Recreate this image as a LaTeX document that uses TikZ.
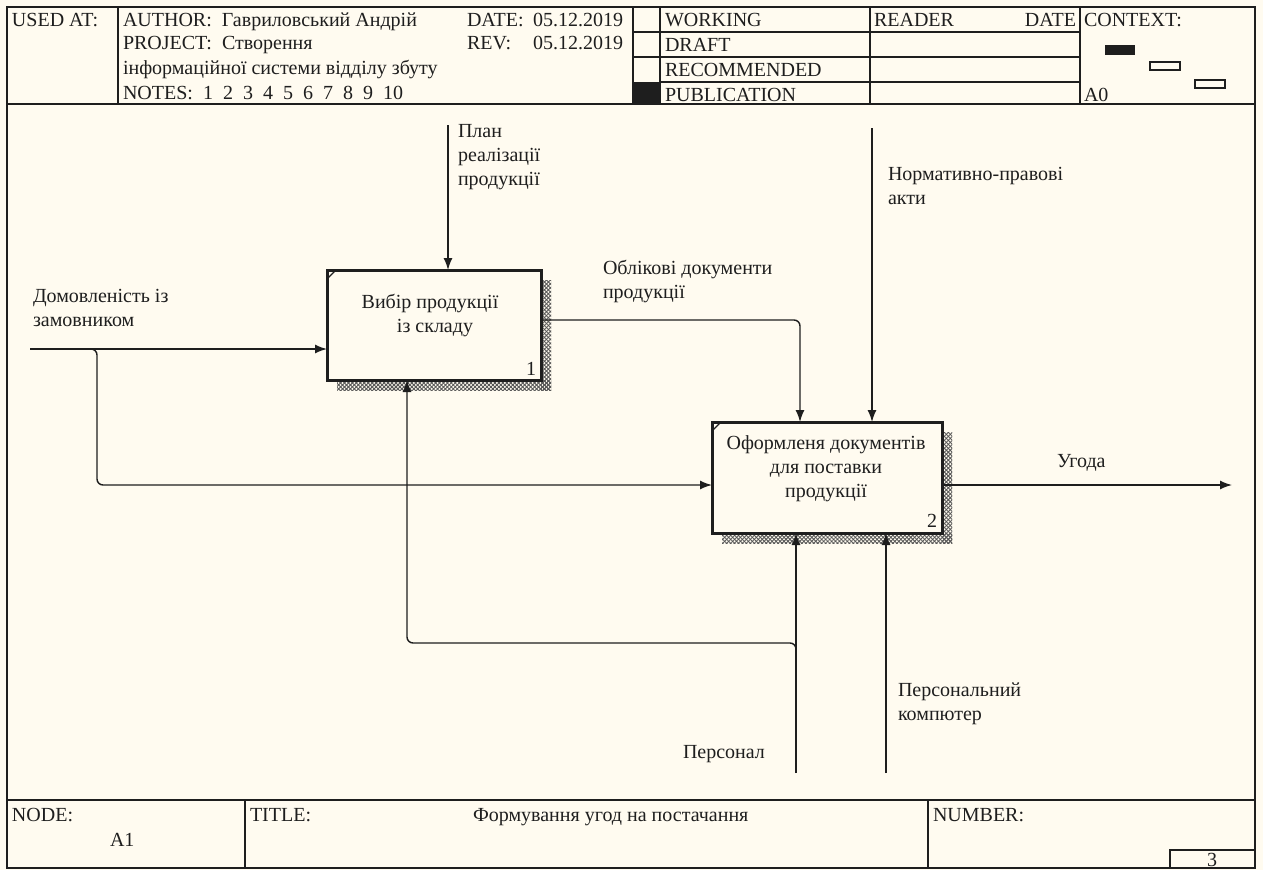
\documentclass[tikz,border=0pt]{standalone}
\usepackage{fontspec}
\setmainfont{Liberation Serif}
\usetikzlibrary{arrows.meta,patterns.meta,calc}
\definecolor{paper}{HTML}{FFFBF0}
\definecolor{ink}{HTML}{1E1E1E}

\begin{document}
\begin{tikzpicture}[x=1pt,y=-1pt,
  every node/.style={inner sep=0pt, outer sep=0pt, text=ink},
  txt/.style={font=\fontsize{20}{24}\selectfont, anchor=base west, align=left},
  ctxt/.style={font=\fontsize{20}{24}\selectfont, anchor=base, align=center},
  rule/.style={line width=1.3pt, draw=ink},
  func/.style={draw=ink, line width=3pt, fill=paper},
  flow/.style={line width=1.4pt, draw=ink, -{Latex[length=12pt,width=9pt]}, rounded corners=6pt},
  shadeA/.style={pattern={Lines[angle=45,distance=2.8pt,line width=0.9pt]}, pattern color=ink!75},
  shadeB/.style={pattern={Lines[angle=-45,distance=2.8pt,line width=0.9pt]}, pattern color=ink!75},
]
\fill[paper] (0,0) rectangle (1263,870);
\useasboundingbox (0,0) rectangle (1263,870);

% ---------- outer frame and header ----------
\draw[rule] (7,7) rectangle (1255,868);
\draw[rule] (7,104) -- (1255,104);
\draw[rule] (118,7) -- (118,104);
\draw[rule] (633,7) -- (633,104);
\draw[rule] (660,7) -- (660,104);
\draw[rule] (870,7) -- (870,104);
\draw[rule] (1080,7) -- (1080,104);
\draw[rule] (633,32) -- (1080,32);
\draw[rule] (633,57) -- (1080,57);
\draw[rule] (660,82) -- (1080,82);
\fill[ink] (633,82) rectangle (660,104);

\node[txt] (usedat) at (12,26) {USED AT:};
\node[txt] (author) at (123,26) {AUTHOR:\ \ Гавриловський Андрій};
\node[txt] (project) at (123,49) {PROJECT:\ \ Створення};
\node[txt] (projectb) at (123,74) {інформаційної системи відділу збуту};
\node[txt] (notes) at (123,99) {NOTES:\ \ 1\ \ 2\ \ 3\ \ 4\ \ 5\ \ 6\ \ 7\ \ 8\ \ 9\ \ 10};
\node[txt] (date) at (467,26) {DATE:};
\node[txt] (datev) at (533,26) {05.12.2019};
\node[txt] (rev) at (467,49) {REV:};
\node[txt] (revdate) at (533,49) {05.12.2019};
\node[txt] (working) at (665,26) {WORKING};
\node[txt] (draft) at (665,51) {DRAFT};
\node[txt] (recommended) at (665,76) {RECOMMENDED};
\node[txt] (publication) at (665,101) {PUBLICATION};
\node[txt] (reader) at (874,26) {READER};
\node[txt, anchor=base east] (readerdate) at (1076,26) {DATE};
\node[txt] (context) at (1084,26) {CONTEXT:};
\node[txt] (ctxnode) at (1084,101) {A0};
\fill[ink] (1105,45) rectangle (1135,55);
\draw[line width=1.2pt, draw=ink] (1150,62) rectangle (1180,70);
\draw[line width=1.2pt, draw=ink] (1195,80) rectangle (1225,88);

% ---------- footer ----------
\draw[rule] (7,800) -- (1255,800);
\draw[rule] (245,800) -- (245,868);
\draw[rule] (928,800) -- (928,868);
\draw[rule] (1170,850) rectangle (1255,868);
\node[txt] (nodelbl) at (12,821) {NODE:};
\node[txt] (nodeid) at (110,846) {A1};
\node[txt] (titlelbl) at (250,821) {TITLE:};
\node[txt] (title) at (473,821) {Формування угод на постачання};
\node[txt] (numberlbl) at (933,821) {NUMBER:};
\node[ctxt] (pagenum) at (1212,866) {3};

% ---------- activity boxes with hatched shadows ----------
\foreach \s in {shadeA,shadeB}{
  \fill[\s] (541,280) rectangle (551,390);
  \fill[\s] (337,380) rectangle (551,390);
  \fill[\s] (942,432) rectangle (952,543);
  \fill[\s] (722,533) rectangle (952,543);
}
\node[func, minimum width=214pt, minimum height=110pt] (b1) at (434,325) {};
\draw[line width=1.2pt, draw=ink] ($(b1.north west)+(0,9)$) -- ($(b1.north west)+(9,0)$);
\node[ctxt] (b1txt) at (430,332) {Вибір продукції\\\ \ із складу};
\node[txt, anchor=base east] (b1num) at (536,375) {1};

\node[func, minimum width=230pt, minimum height=111pt] (b2) at (827,477.5) {};
\draw[line width=1.2pt, draw=ink] ($(b2.north west)+(0,9)$) -- ($(b2.north west)+(9,0)$);
\node[ctxt] (b2txt) at (826,497) {Оформленя документів\\для поставки\\продукції};
\node[txt, anchor=base east] (b2num) at (937,527) {2};

% ---------- free ends of the boundary arrows ----------
\coordinate (planin) at (448,125);
\coordinate (lawin) at (872,128);
\coordinate (orderin) at (30,349);
\coordinate (dealout) at (1232,485);
\coordinate (staffin) at (796,773);
\coordinate (pcin) at (886,773);

% ---------- arrows ----------
\draw[flow] (planin) -- (planin |- b1.north);
\draw[flow] (lawin) -- (lawin |- b2.north);
\draw[flow] (orderin) -- (orderin -| b1.west);
\draw[flow] (91,349) -- (97,349) -- (97,485) -- (97,485 -| b2.west);
\draw[flow] (b1.east |- 0,320) -- (800,320) -- (800,320 |- b2.north);
\draw[flow] (b2.east |- dealout) -- (dealout);
\draw[flow] (staffin) -- (staffin |- b2.south);
\draw[flow] (796,651) -- (796,643) -- (407,643) -- (407,643 |- b1.south);
\draw[flow] (pcin) -- (pcin |- b2.south);

% ---------- arrow labels ----------
\node[txt] (planlbl) at (458,185) {План\\реалізації\\продукції};
\node[txt] (orderlbl) at (33,326) {Домовленість із\\замовником};
\node[txt] (docslbl) at (603,298) {Облікові документи\\продукції};
\node[txt] (lawlbl) at (888,204) {Нормативно-правові\\акти};
\node[txt] (deallbl) at (1057,467) {Угода};
\node[txt] (stafflbl) at (683,758) {Персонал};
\node[txt] (pclbl) at (898,720) {Персональний\\компютер};
\end{tikzpicture}
\end{document}
